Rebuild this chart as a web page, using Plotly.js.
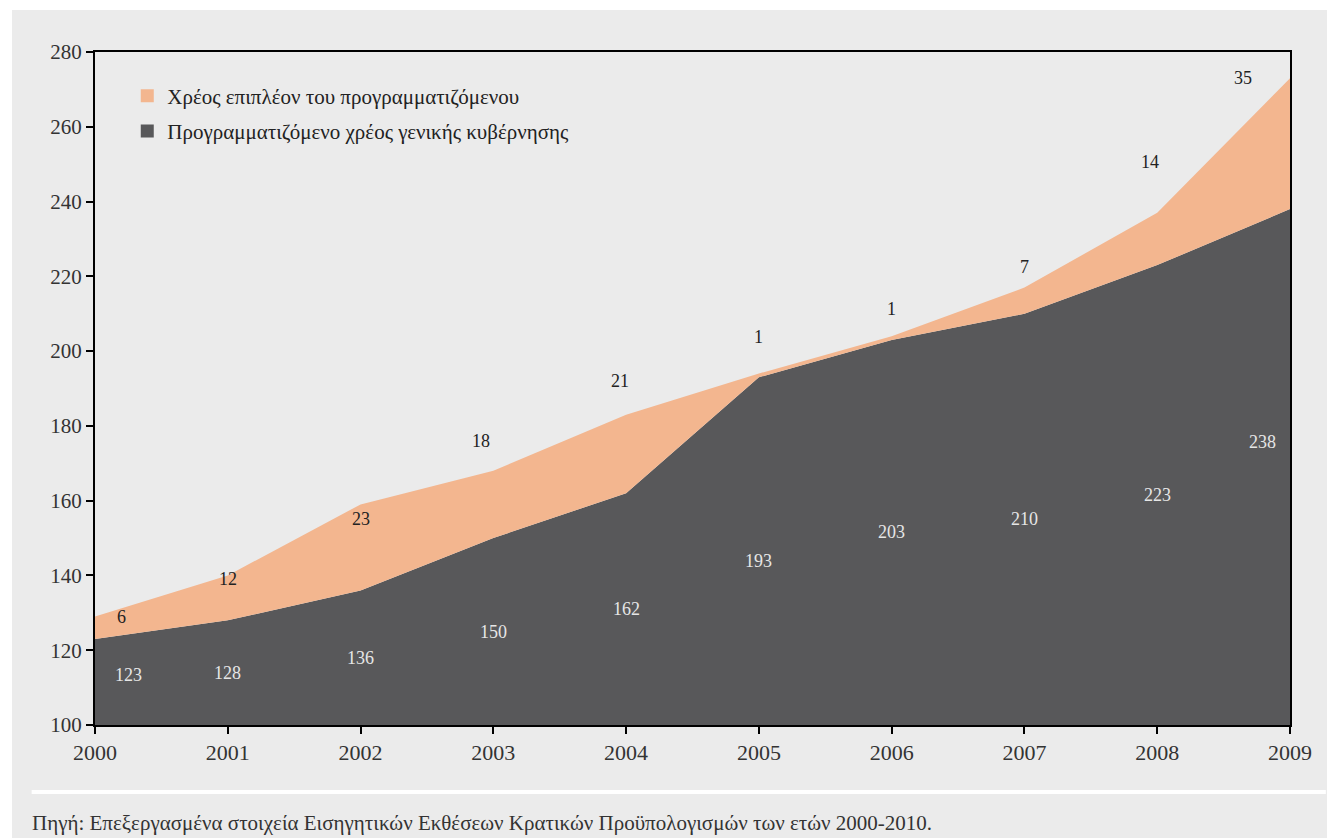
<!DOCTYPE html>
<html>
<head>
<meta charset="utf-8">
<script src="https://cdn.plot.ly/plotly-3.0.1.min.js"></script>
<style>
  html, body { margin: 0; padding: 0; background: #ffffff; }
  #chart { position: absolute; left: 12px; top: 10px; width: 1315px; height: 828px; }
</style>
</head>
<body>
<div id="chart"></div>
<script>
// ---- data ----
const years = [2000, 2001, 2002, 2003, 2004, 2005, 2006, 2007, 2008, 2009];
const plannedDebt = [123, 128, 136, 150, 162, 193, 203, 210, 223, 238];
const extraDebt = [6, 12, 23, 18, 21, 1, 1, 7, 14, 35];
const nameExtra = 'Χρέος επιπλέον του προγραμματιζόμενου';
const namePlanned = 'Προγραμματιζόμενο χρέος γενικής κυβέρνησης';
const sourceText = 'Πηγή: Επεξεργασμένα στοιχεία Εισηγητικών Εκθέσεων Κρατικών Προϋπολογισμών των ετών 2000-2010.';

// ---- label placement tweaks (pixels) ----
const plannedLabelShift = [[33, 7], [0, 0], [0, 0], [0, 0], [0, 0], [0, -10], [0, 0], [0, 0], [0, 0], [-28, 25]];
const extraLabelShift = [[26, 0], [0, -4], [0, -15], [-12, 30], [-6, 34], [0, 37], [0, 27], [0, 21], [-7, 51], [-47, 0]];

const colDark = '#58585a';
const colOrange = '#f3b68f';
const bg = '#ebebeb';
const serif = 'Liberation Serif, Times New Roman, DejaVu Serif, serif';
const yMin = 100, yMax = 280;

const traces = [
  { x: years, y: plannedDebt, type: 'scatter', mode: 'lines', stackgroup: 'one',
    line: { width: 0, color: colDark }, fillcolor: colDark, showlegend: false, hoverinfo: 'x+y' },
  { x: years, y: extraDebt, type: 'scatter', mode: 'lines', stackgroup: 'one',
    line: { width: 0, color: colOrange }, fillcolor: colOrange, showlegend: false, hoverinfo: 'x+y' },
  { x: [null], y: [null], type: 'scatter', mode: 'markers', name: nameExtra, legendgroup: 'a',
    marker: { symbol: 'square', size: 13, color: colOrange } },
  { x: [null], y: [null], type: 'scatter', mode: 'markers', name: namePlanned, legendgroup: 'b',
    marker: { symbol: 'square', size: 13, color: colDark } }
];

const annotations = [];
years.forEach((yr, i) => {
  annotations.push({
    x: yr, y: (yMin + plannedDebt[i]) / 2, text: String(plannedDebt[i]), showarrow: false,
    xshift: plannedLabelShift[i][0], yshift: plannedLabelShift[i][1],
    font: { family: serif, size: 18, color: '#e6e6e6' }
  });
  annotations.push({
    x: yr, y: plannedDebt[i] + extraDebt[i], text: String(extraDebt[i]), showarrow: false,
    xshift: extraLabelShift[i][0], yshift: extraLabelShift[i][1],
    font: { family: serif, size: 18, color: '#222222' }
  });
});
annotations.push({
  xref: 'paper', yref: 'paper', x: -0.054, y: -0.145, xanchor: 'left', yanchor: 'middle',
  text: sourceText, showarrow: false, font: { family: serif, size: 21, color: '#333333' }
});

const layout = {
  width: 1315, height: 828,
  margin: { l: 83, r: 37, t: 42, b: 113 },
  paper_bgcolor: bg, plot_bgcolor: bg,
  showlegend: true,
  legend: {
    x: 0.027, y: 0.965, xanchor: 'left', yanchor: 'top',
    bgcolor: 'rgba(0,0,0,0)', traceorder: 'grouped', tracegroupgap: 5,
    font: { family: serif, size: 21, color: '#222222' }
  },
  xaxis: {
    range: [2000, 2009], tickvals: years, ticktext: years.map(String),
    showgrid: false, zeroline: false,
    showline: true, linecolor: '#000', linewidth: 2, mirror: true,
    ticks: 'outside', ticklen: 7, tickwidth: 2, tickcolor: '#000',
    tickfont: { family: serif, size: 22, color: '#333333' }
  },
  yaxis: {
    range: [yMin, yMax], tickvals: [100, 120, 140, 160, 180, 200, 220, 240, 260, 280],
    showgrid: false, zeroline: false,
    showline: true, linecolor: '#000', linewidth: 2, mirror: true,
    ticks: 'outside', ticklen: 7, tickwidth: 2, tickcolor: '#000',
    tickfont: { family: serif, size: 21, color: '#333333' }
  },
  shapes: [
    { type: 'line', xref: 'paper', yref: 'paper', x0: -0.053, x1: 1.03, y0: -0.0996, y1: -0.0996,
      line: { color: '#ffffff', width: 4 } }
  ],
  annotations: annotations
};

Plotly.newPlot('chart', traces, layout, { displayModeBar: false, staticPlot: true });
</script>
</body>
</html>
